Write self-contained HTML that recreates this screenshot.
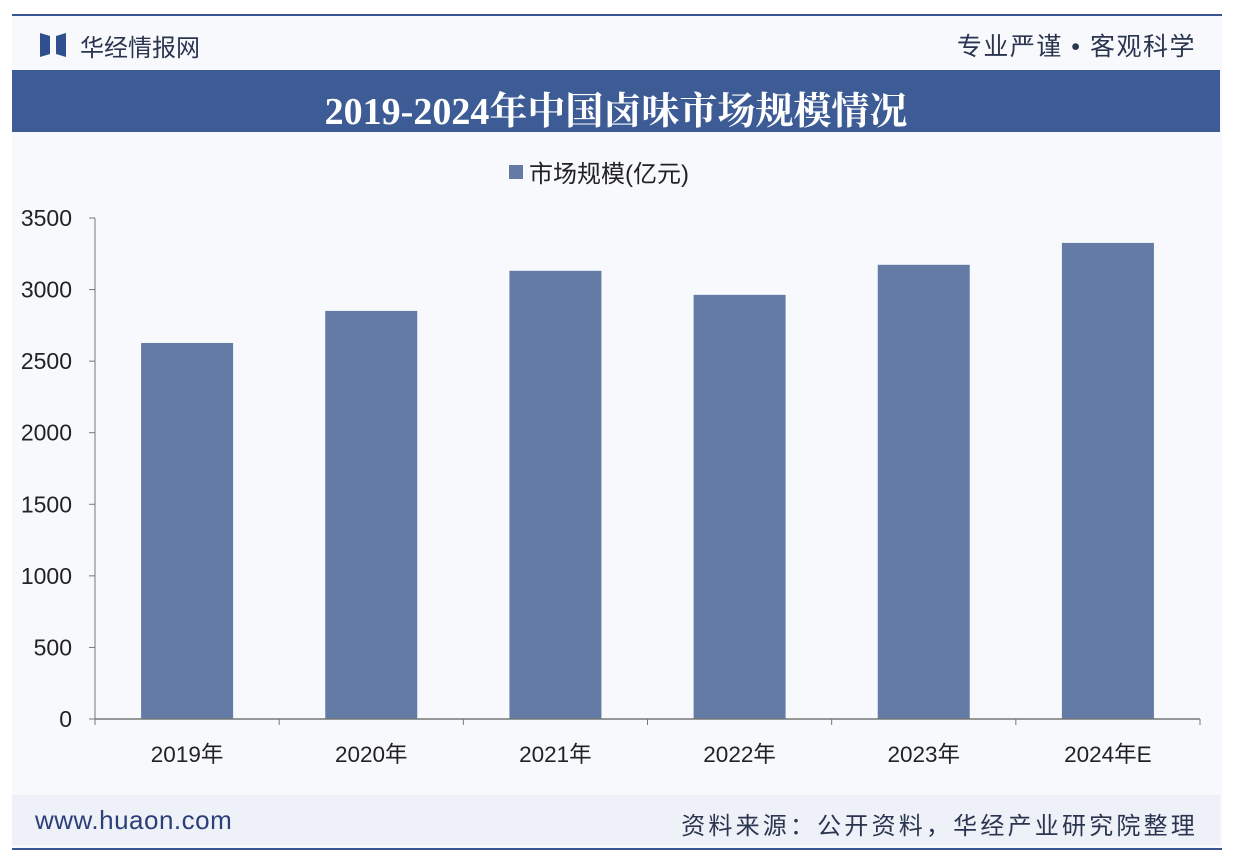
<!DOCTYPE html>
<html><head><meta charset="utf-8"><style>
body{margin:0;width:1236px;height:866px;background:#fff;overflow:hidden;font-family:"Liberation Sans","Noto Sans CJK SC",sans-serif;position:relative}
.abs{position:absolute}
</style></head><body>
<div class="abs" style="left:12px;top:14px;width:1210px;height:836px;background:#f7f9fc"></div>
<div class="abs" style="left:12px;top:14px;width:1210px;height:2px;background:#3a5690"></div>
<div class="abs" style="left:40px;top:33px;width:26px;height:24px">
<svg width="26" height="24"><polygon points="0,0 10,3 10,21 0,24" fill="#2f4f8f"/><polygon points="26,0 16,3 16,21 26,24" fill="#2f4f8f"/></svg></div>
<div class="abs" style="left:80px;top:28px;font-size:24px;color:#2b3550">华经情报网</div>
<div class="abs" style="right:40px;top:27px;font-size:25px;color:#2b3550;letter-spacing:1.5px">专业严谨 • 客观科学</div>
<div class="abs" style="left:12px;top:70px;width:1208px;height:62px;background:#3d5b95"></div>
<div class="abs" style="left:12px;top:80px;width:1208px;text-align:center;font-size:38px;font-weight:bold;color:#fff;font-family:'Liberation Serif','Noto Serif CJK SC',serif">2019-2024年中国卤味市场规模情况</div>
<div class="abs" style="left:12px;top:795px;width:1208px;height:50px;background:#eef1f7"></div>
<div class="abs" style="left:35px;top:805px;font-size:26px;color:#2b3f78;letter-spacing:0.5px">www.huaon.com</div>
<div class="abs" style="right:38px;top:806px;font-size:24px;color:#2b3550;letter-spacing:3.2px">资料来源：公开资料，华经产业研究院整理</div>
<div class="abs" style="left:12px;top:848px;width:1210px;height:2px;background:#3a5690"></div>
<svg class="abs" style="left:0;top:0" width="1236" height="866" id="chart"></svg>
<script>
const categories=["2019年","2020年","2021年","2022年","2023年","2024年E"];
const values=[2627,2851,3131,2963,3173,3326];
const ticks=[0,500,1000,1500,2000,2500,3000,3500];
const NS="http://www.w3.org/2000/svg";
const svg=document.getElementById('chart');
const x0=95,x1=1200,y0=719,yTop=218,yMax=3500;
const bw=(x1-x0)/categories.length;
const y=v=>y0-(v/yMax)*(y0-yTop);
function el(t,a){const e=document.createElementNS(NS,t);for(const k in a)e.setAttribute(k,a[k]);svg.appendChild(e);return e;}
ticks.forEach(t=>{
 const tx=el('text',{x:72,y:y(t)+8,'text-anchor':'end','font-size':23,fill:'#222','font-family':'Liberation Sans'});
 tx.textContent=t;
 
 
});
const ya=el('line',{x1:x0,y1:yTop,x2:x0,y2:y0+6,stroke:'#777','stroke-width':1});


ticks.forEach(t=>{const l=el('line',{x1:x0-6,y1:y(t),x2:x0,y2:y(t),stroke:'#777'});

});
categories.forEach((c,i)=>{
 const cx=x0+bw*(i+0.5);
 const r=el('rect',{x:cx-46,y:y(values[i]),width:92,height:y0-y(values[i]),fill:'#647ba5'});
 
 
 const t=el('text',{x:cx,y:762,'text-anchor':'middle','font-size':22.5,fill:'#222','font-family':'Liberation Sans, Noto Sans CJK SC, sans-serif'});
 t.textContent=c;
 
 
});
for(let i=0;i<=categories.length;i++){const xx=x0+bw*i;const l=el('line',{x1:xx,y1:y0,x2:xx,y2:y0+6,stroke:'#777'});

}
const xa=el('line',{x1:x0,y1:y0,x2:x1,y2:y0,stroke:'#777','stroke-width':1.5});


const lg=el('rect',{x:509,y:165,width:14,height:14,fill:'#647ba5'});


const lt=el('text',{x:529,y:182,'font-size':24,fill:'#222','font-family':'Liberation Sans, Noto Sans CJK SC, sans-serif'});
lt.textContent='市场规模(亿元)';


</script>
</body></html>
